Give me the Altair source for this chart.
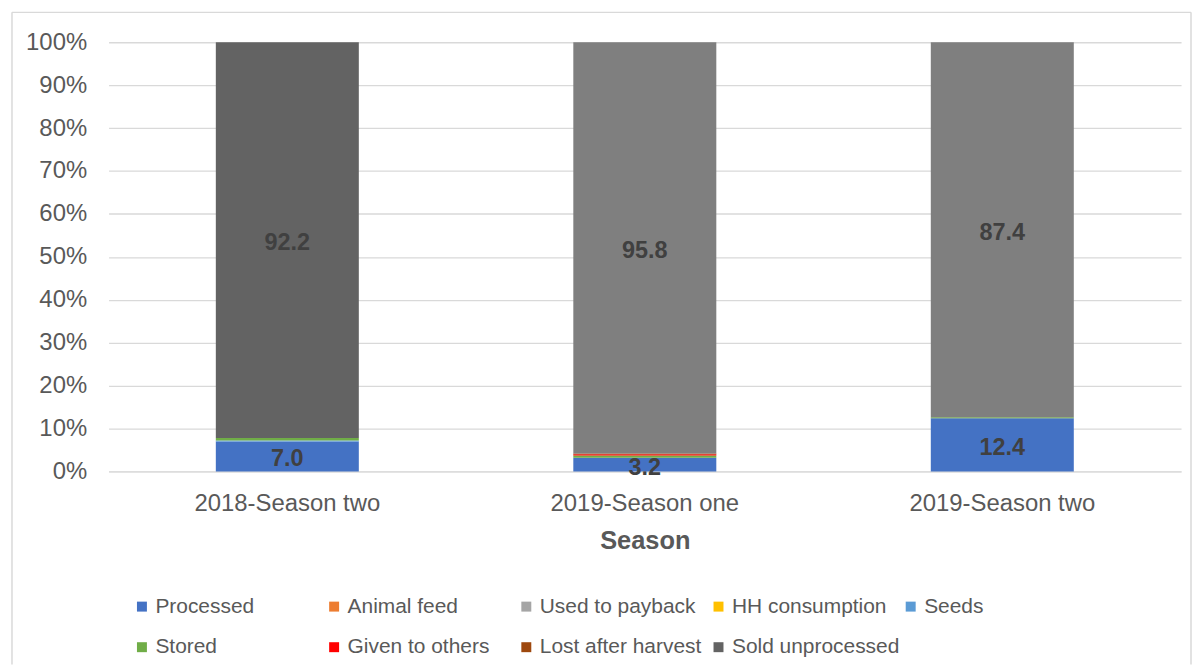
import altair as alt
import pandas as pd

seasons = ["2018-Season two", "2019-Season one", "2019-Season two"]
categories = ["Processed", "Animal feed", "Used to payback", "HH consumption", "Seeds",
              "Stored", "Given to others", "Lost after harvest", "Sold unprocessed"]
colors = ["#4472C4", "#ED7D31", "#A5A5A5", "#FFC000", "#5B9BD5",
          "#70AD47", "#FF0000", "#9E480E", "#636363"]
alt_sold_key = "Sold unprocessed (bar)"
alt_sold_color = "#7F7F7F"

processed = [7.0, 3.2, 12.4]
animal_feed = [0.0, 0.0, 0.0]
used_to_payback = [0.0, 0.0, 0.0]
hh_consumption = [0.0, 0.0, 0.0]
seeds = [0.2, 0.0, 0.0]
stored = [0.6, 0.5, 0.2]
given_to_others = [0.0, 0.3, 0.0]
lost_after_harvest = [0.0, 0.2, 0.0]
sold_unprocessed = [92.2, 95.8, 87.4]

series = [processed, animal_feed, used_to_payback, hh_consumption, seeds,
          stored, given_to_others, lost_after_harvest, sold_unprocessed]
labelled = ["Processed", "Sold unprocessed"]

rows = []
for ci, (cat, vals) in enumerate(zip(categories, series)):
    for si, s in enumerate(seasons):
        v = vals[si]
        if v <= 0:
            continue
        key = cat
        if cat == "Sold unprocessed" and si > 0:
            key = alt_sold_key
        rows.append({"season": s, "category": cat, "key": key, "idx": ci, "value": v,
                     "label": cat in labelled})
df = pd.DataFrame(rows)

FONT = "Liberation Sans"
GRAY = "#595959"

x_enc = alt.X("season:N", sort=seasons, title="Season",
              scale=alt.Scale(paddingInner=0.6, paddingOuter=0.3),
              axis=alt.Axis(labelAngle=0, ticks=False, domainColor="#D9D9D9", labelLimit=0,
                            labelFontSize=24, labelColor=GRAY, labelFont=FONT, labelPadding=20,
                            titleFontSize=25.5, titleFontWeight="bold", titleColor=GRAY,
                            titleFont=FONT, titlePadding=13))

base = alt.Chart(df)

bars = base.mark_bar().encode(
    x=x_enc,
    y=alt.Y("value:Q", stack="zero", title=None,
            scale=alt.Scale(domain=[0, 100], nice=False),
            axis=alt.Axis(values=list(range(0, 101, 10)), labelExpr="datum.value + '%'",
                          domain=False, ticks=False, gridColor="#D9D9D9", gridWidth=1.3,
                          labelFontSize=24, labelColor=GRAY, labelFont=FONT, labelPadding=22)),
    color=alt.Color("key:N",
                    scale=alt.Scale(domain=categories + [alt_sold_key],
                                    range=colors + [alt_sold_color]),
                    legend=alt.Legend(values=categories, title=None, orient="none",
                                      legendX=23, legendY=556, columns=5, gridAlign="all",
                                      columnPadding=-5, rowPadding=19, symbolType="square",
                                      symbolSize=100, symbolStrokeWidth=0, labelOffset=3,
                                      labelLimit=0,
                                      labelFontSize=21, labelColor=GRAY, labelFont=FONT,
                                      direction="horizontal")),
    order=alt.Order("idx:Q", sort="ascending"),
)

texts = base.transform_stack(
    stack="value", groupby=["season"], sort=[alt.SortField("idx", order="ascending")],
    as_=["y0", "y1"]
).transform_calculate(
    mid="(datum.y0 + datum.y1) / 2"
).transform_filter(
    "datum.label"
).mark_text(fontSize=23.5, fontWeight="bold", color="#404040", font=FONT,
            baseline="middle", dy=3).encode(
    x=alt.X("season:N", sort=seasons),
    y=alt.Y("mid:Q"),
    text=alt.Text("value:Q", format=".1f"),
)

one = alt.Chart(pd.DataFrame({"a": [0]}))
border_style = dict(color="#D9D9D9", strokeWidth=1.5)
left_rule = one.mark_rule(**border_style).encode(
    x=alt.value(-97), y=alt.value(-30), y2=alt.value(625))
right_rule = one.mark_rule(**border_style).encode(
    x=alt.value(1087), y=alt.value(-30), y2=alt.value(625))
top_rule = one.mark_rule(**border_style).encode(
    x=alt.value(-97), x2=alt.value(1087), y=alt.value(-30))

chart = alt.layer(bars, texts, left_rule, right_rule, top_rule).properties(
    width=1077, height=431,
    padding={"left": 3, "top": 2, "right": 0, "bottom": 0},
    background="white",
).configure_view(stroke=None)

chart.save("out.html", embed_options={"renderer": "svg", "actions": False})
